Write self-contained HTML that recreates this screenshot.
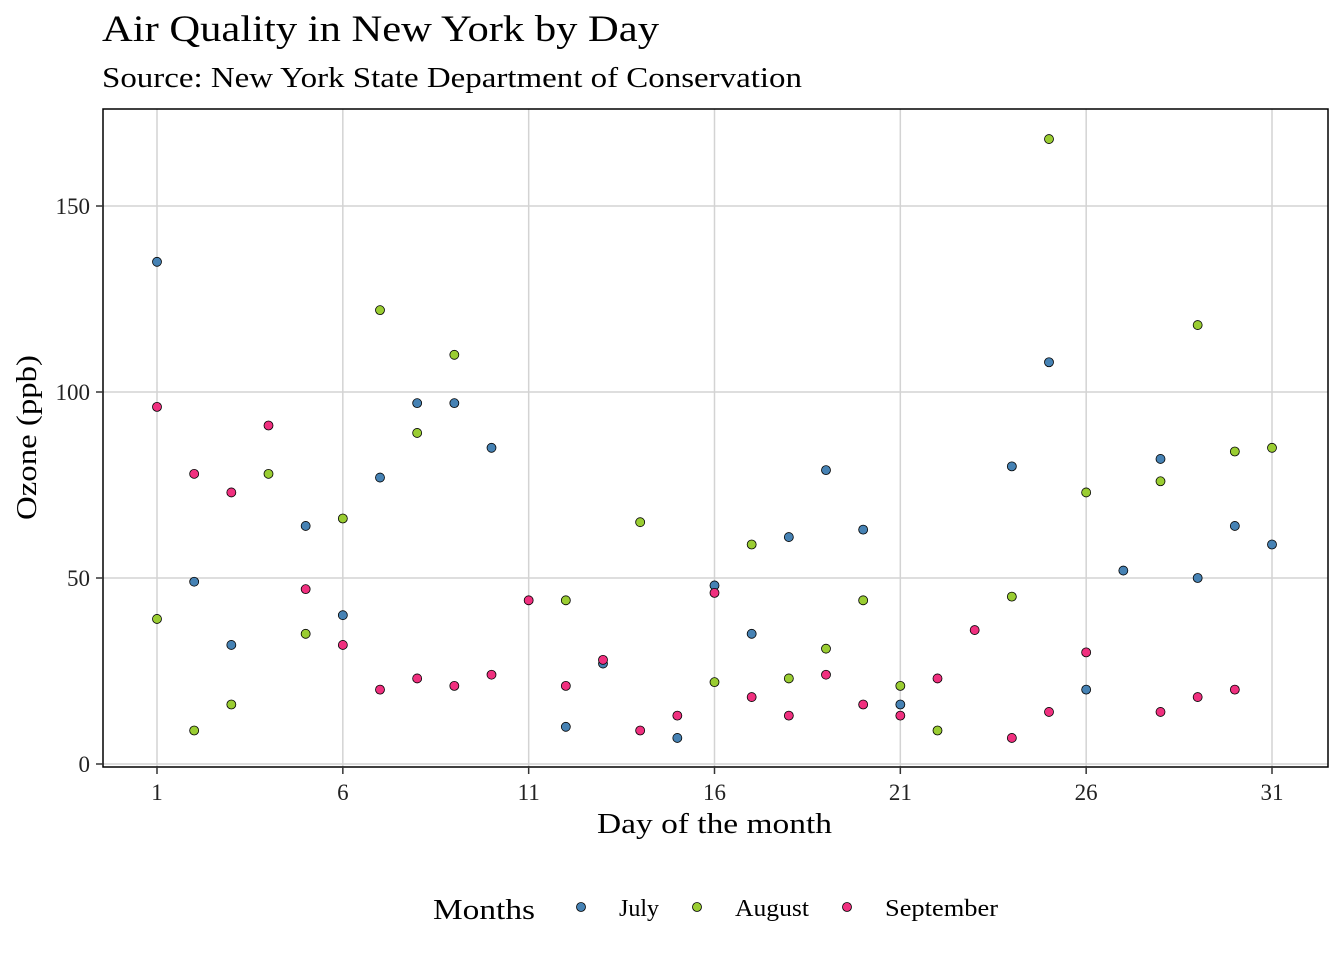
<!DOCTYPE html>
<html><head><meta charset="utf-8"><style>
html,body{margin:0;padding:0;background:#fff;}
svg{display:block;font-family:"Liberation Serif",serif;}
</style></head><body>
<svg id="chart" width="1344" height="960" viewBox="0 0 1344 960">
<text x="102" y="41" font-size="37" fill="#000" textLength="557" lengthAdjust="spacingAndGlyphs">Air Quality in New York by Day</text>
<text x="102" y="87" font-size="28" fill="#000" textLength="700" lengthAdjust="spacingAndGlyphs">Source: New York State Department of Conservation</text>
<g id="grid"></g>
<g id="marks"></g>
<rect x="103" y="109" width="1225" height="658" fill="none" stroke="#000" stroke-width="1.5"/>
<g id="axes"></g>
<text x="597" y="833" font-size="28" textLength="235" lengthAdjust="spacingAndGlyphs">Day of the month</text>
<text transform="translate(36,520) rotate(-90)" font-size="28" textLength="165" lengthAdjust="spacingAndGlyphs">Ozone (ppb)</text>
<g id="legend"></g>
</svg>
<script>
const xTicks=[1,6,11,16,21,26,31];
const yTicks=[0,50,100,150];
const julyDays=[1,2,3,5,6,7,8,9,10,12,13,15,16,17,18,19,20,21,24,25,26,27,28,29,30,31];
const julyOzone=[135,49,32,64,40,77,97,97,85,10,27,7,48,35,61,79,63,16,80,108,20,52,82,50,64,59];
const augDays=[1,2,3,4,5,6,7,8,9,12,14,16,17,18,19,20,21,22,24,25,26,28,29,30,31];
const augOzone=[39,9,16,78,35,66,122,89,110,44,65,22,59,23,31,44,21,9,45,168,73,76,118,84,85];
const sepDays=[1,2,3,4,5,6,7,8,9,10,11,12,13,14,15,16,17,18,19,20,21,22,23,24,25,26,28,29,30];
const sepOzone=[96,78,73,91,47,32,20,23,21,24,44,21,28,9,13,46,18,13,24,16,13,23,36,7,14,30,14,18,20];
const seriesNames=["July","August","September"];
const seriesColors=["#4682b4","#9acd32","#f0307f"];
const NS="http://www.w3.org/2000/svg";
const xs=d=>157+(d-1)*(1272-157)/30;
const ys=v=>764-v*(764-206)/150;
function mk(tag,attrs,parent){const e=document.createElementNS(NS,tag);for(const k in attrs)e.setAttribute(k,attrs[k]);parent.appendChild(e);return e;}
const grid=document.getElementById('grid'),axes=document.getElementById('axes'),marks=document.getElementById('marks'),legend=document.getElementById('legend');
xTicks.forEach(t=>{
 const g=mk('line',{x1:xs(t),x2:xs(t),y1:109,y2:767,stroke:'#d3d3d3','stroke-width':1.5},grid);
 
 
 const tk=mk('line',{x1:xs(t),x2:xs(t),y1:767,y2:774,stroke:'#333','stroke-width':1.5},axes);
 
 
 const lb=mk('text',{x:xs(t),y:800,'font-size':23,'text-anchor':'middle',fill:'#222'},axes);
 
 
 lb.textContent=t;
});
yTicks.forEach(t=>{
 const g=mk('line',{x1:103,x2:1328,y1:ys(t),y2:ys(t),stroke:'#d3d3d3','stroke-width':1.5},grid);
 
 
 const tk=mk('line',{x1:96,x2:103,y1:ys(t),y2:ys(t),stroke:'#333','stroke-width':1.5},axes);
 
 
 const lb=mk('text',{x:90,y:ys(t)+8,'font-size':23,'text-anchor':'end',fill:'#222'},axes);
 
 
 lb.textContent=t;
});
const allDays=[julyDays,augDays,sepDays],allVals=[julyOzone,augOzone,sepOzone];
allDays.forEach((days,si)=>{
 days.forEach((d,i)=>{
  const c=mk('circle',{cx:xs(d),cy:ys(allVals[si][i]),r:4.5,fill:seriesColors[si],stroke:'#000','stroke-width':0.8},marks);
  
  
 });
});
const lt=mk('text',{x:433,y:919,'font-size':29,textLength:102,lengthAdjust:'spacingAndGlyphs'},legend);


lt.textContent='Months';
const lx=[581,697,847];
const lw=[40,74,113];
seriesNames.forEach((n,i)=>{
 const c=mk('circle',{cx:lx[i],cy:907,r:4.5,fill:seriesColors[i],stroke:'#000','stroke-width':0.8},legend);
 
 
 const t=mk('text',{x:lx[i]+38,y:916,'font-size':24,textLength:lw[i],lengthAdjust:'spacingAndGlyphs'},legend);
 
 
 t.textContent=n;
});
</script>
</body></html>
